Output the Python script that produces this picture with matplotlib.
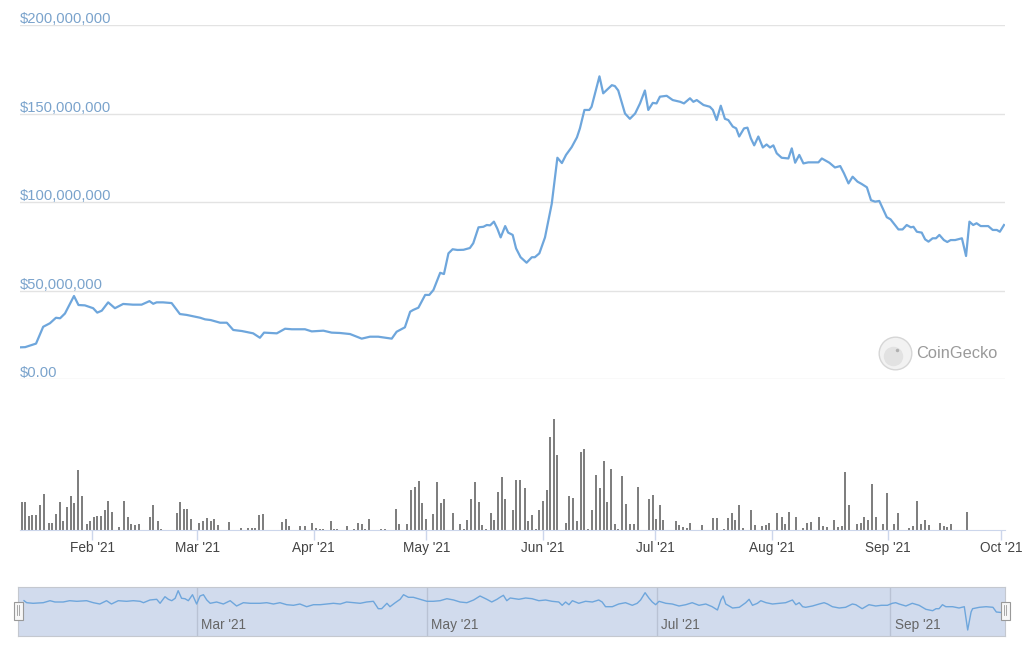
import numpy as np
import pandas as pd
import matplotlib
matplotlib.use("Agg")
import matplotlib.pyplot as plt
import matplotlib.dates as mdates
from matplotlib.patches import Rectangle
from matplotlib.lines import Line2D

plt.rcParams['font.family'] = ['Liberation Sans', 'DejaVu Sans']

# price (market cap): day of year 2021, $ millions
price_doy = [13.0, 14.2, 17.1, 19.0, 20.8, 22.4, 23.5, 24.8, 27.2, 28.4, 30.1, 32.3, 33.4, 34.6,
             36.3, 38.1, 40.3, 42.9, 45.2, 47.3, 48.3, 49.2, 50.9, 53.2, 55.4, 57.2, 59.0, 60.8,
             62.1, 63.6, 66.1, 67.9, 69.6, 71.9, 74.9, 76.7, 77.8, 81.2, 83.4, 85.2, 88.7, 90.5,
             93.6, 95.8, 98.0, 100.7, 103.8, 106.0, 108.2, 111.8, 113.1, 115.3, 116.7, 117.5,
             118.9, 120.7, 121.8, 122.9, 124.7, 125.7, 126.9, 128.0, 129.3, 130.9, 132.6, 133.5,
             134.9, 136.2, 137.1, 138.0, 139.0, 139.9, 140.8, 142.0, 142.8, 144.0, 144.9, 146.1,
             147.7, 149.1, 149.9, 151.1, 152.6, 154.4, 155.9, 157.1, 158.2, 159.7, 161.1, 161.9,
             163.1, 164.4, 165.0, 167.1, 168.1, 170.4, 171.2, 172.1, 173.9, 175.2, 176.6, 177.9,
             179.2, 180.1, 181.3, 182.3, 183.2, 185.0, 186.6, 188.6, 189.6, 191.2, 192.1, 193.0,
             194.8, 196.5, 197.3, 198.3, 199.4, 200.5, 201.4, 202.6, 203.5, 204.3, 205.6, 206.5,
             207.4, 208.3, 209.4, 210.6, 211.6, 212.5, 213.4, 214.3, 215.6, 217.4, 218.3, 219.2,
             220.3, 221.4, 222.7, 225.4, 226.3, 228.3, 229.8, 231.2, 232.2, 233.4, 234.5, 235.8,
             236.9, 238.3, 239.4, 240.5, 241.6, 242.5, 243.6, 244.6, 246.7, 247.8, 248.9, 250.0,
             250.7, 251.6, 252.9, 253.8, 254.7, 255.8, 256.7, 257.6, 258.8, 259.7, 260.6, 261.8,
             263.6, 264.7, 265.6, 266.6, 267.5, 268.6, 270.6, 271.8, 272.9, 273.7, 274.8]
price_m = [17.9, 18.0, 20.0, 29.5, 31.5, 34.6, 34.3, 37.0, 46.9, 41.8, 41.6, 40.0, 37.5, 38.6,
           43.3, 40.0, 42.4, 42.0, 42.0, 44.0, 42.5, 43.3, 43.3, 42.9, 36.7, 36.2, 35.4, 34.6,
           33.7, 33.3, 31.8, 31.8, 27.7, 27.1, 25.8, 23.3, 26.2, 25.8, 28.4, 28.1, 28.1, 26.9,
           27.3, 26.2, 26.0, 25.4, 22.8, 23.9, 23.9, 22.8, 26.7, 29.2, 38.0, 39.0,
           40.3, 47.5, 47.5, 50.3, 60.0, 59.3, 71.0, 73.3, 72.9, 73.0, 74.0, 76.7,
           85.7, 86.0, 87.0, 86.8, 88.9, 85.0, 80.0, 86.4, 82.7, 81.4, 73.8, 68.8,
           65.7, 68.8, 68.8, 71.0, 80.0, 99.0, 125.0, 122.0, 126.6, 131.0, 136.5, 141.6,
           152.0, 152.0, 153.8, 171.0, 161.4, 166.0, 165.5, 163.0, 150.0, 147.0, 150.0, 155.7,
           163.0, 152.0, 156.0, 155.7, 159.5, 160.0, 157.6, 156.6, 155.7, 158.6, 156.6, 157.6,
           154.8, 153.8, 152.0, 146.3, 154.4, 147.0, 146.3, 142.6, 141.6, 137.0, 141.6, 142.0,
           136.0, 132.0, 137.0, 130.8, 132.5, 130.8, 132.0, 127.5, 125.0, 124.6, 130.3, 122.2,
           126.6, 121.8, 122.4, 122.4, 124.6, 122.2, 119.5, 120.3, 116.2, 110.5, 114.3, 111.5,
           110.2, 108.3, 101.0, 100.2, 100.6, 96.4, 91.4, 90.2, 84.5, 84.5, 87.0, 85.7,
           86.0, 83.2, 82.7, 78.9, 77.6, 79.5, 79.5, 81.4, 78.5, 77.4, 78.5, 78.5,
           79.5, 69.5, 88.9, 87.0, 88.0, 86.4, 86.4, 84.2, 84.2, 83.2, 87.0]

price_ticks = [0, 50e6, 100e6, 150e6, 200e6]
price_labels = ["$0.00", "$50,000,000", "$100,000,000", "$150,000,000", "$200,000,000"]

# volume bars (relative heights, axis is unlabeled)
vol_doy = [13.3, 14.2, 15.2, 16.1, 17.1, 18.2, 19.1, 20.5, 21.4, 22.3, 23.4, 24.4, 25.3, 26.3,
           27.2, 28.3, 29.3, 30.6, 31.5, 32.5, 33.4, 34.4, 35.4, 36.3, 37.3, 39.2, 40.6, 41.5,
           42.5, 43.4, 44.4, 47.4, 48.3, 49.6, 50.5, 54.5, 55.4, 56.4, 57.4, 58.3, 60.6, 61.6,
           62.5, 63.6, 64.5, 65.5, 68.5, 71.8, 73.6, 74.5, 75.5, 76.5, 77.5, 82.6, 83.6, 84.5,
           87.4, 88.6, 90.7, 91.6, 92.7, 93.6, 95.5, 96.5, 97.1, 99.8,
           101.8, 102.8, 103.8, 104.7, 105.7, 108.9, 109.9, 112.9, 113.8, 115.8, 116.8, 118.0,
           119.0, 119.9, 120.9, 122.9, 123.9, 124.8, 125.8, 128.0, 130.0, 131.0, 131.9, 132.9,
           133.9, 134.9, 135.8, 136.9, 138.1, 139.0, 140.1, 141.1, 142.0, 144.0, 144.9, 146.0,
           147.2, 148.2, 149.1, 150.2, 151.1, 152.0, 153.1, 153.9, 154.9, 155.9, 158.1, 159.1,
           160.0, 161.0, 162.1, 163.1, 164.1, 165.0, 166.2, 167.3, 168.3, 169.2, 170.2, 171.2,
           172.1, 173.2, 174.2, 175.1, 176.3, 177.3, 180.3, 181.3, 182.2, 183.2, 184.1, 187.5,
           188.4, 189.3, 190.3, 191.2,
           194.3, 197.4, 198.3, 200.3, 201.3, 202.3, 203.3, 204.3, 205.4, 207.5, 208.5, 210.3,
           211.4, 212.3, 214.3, 215.6, 216.6, 217.6, 219.4, 221.4, 222.3, 223.3, 225.6, 226.5,
           227.6, 229.5, 230.7, 231.6, 232.5, 233.5, 235.6, 236.6, 237.6, 238.6, 239.6, 240.6,
           242.5, 243.6, 245.5, 246.7, 249.6, 250.7, 251.6, 252.6, 253.9, 254.9, 257.8, 258.7,
           259.7, 260.7, 264.9]
vol_h = [28, 28, 14, 14.7, 14.7, 24.7, 35.7, 6.7, 7.3, 16, 28, 8.7, 23.3, 34,
         27.3, 60, 34, 6, 8.7, 12.7, 14, 14, 20, 29.3, 18, 2.7, 29.3, 12.7,
         6, 4.7, 6, 13.3, 25.3, 8.7, 1.3, 17.3, 28, 21.3, 21.3, 11.3, 7.3, 9.3,
         12.3, 8.7, 11, 5, 7.7, 2.3, 2.3, 2.3, 1.7, 15, 16, 8.3, 10.7, 4,
         4, 4, 7.3, 2, 1.3, 1.3, 8.7, 1.3, 1.3, 4,
         1.3, 7.3, 6, 1.3, 10.7, 1.3, 1.3, 21.3, 6, 6, 40, 42.7,
         48.7, 26.7, 10.7, 16, 47.7, 26.7, 30.7, 16.7, 6, 1.3, 10, 30.7,
         47.7, 28, 4.7, 1.3, 17.3, 10, 38, 53.3, 30.7, 20, 50, 50,
         41.7, 8.7, 14.7, 1.3, 20, 29.3, 40, 92.7, 110.7, 75.3, 7.3, 34,
         32, 8.7, 78, 80.7, 1.3, 20, 54.7, 41.7, 69.3, 28, 61.3, 6,
         1.3, 54, 26, 6, 6, 42.7, 30.7, 35.3, 11.3, 25.3, 10, 8.7,
         4.7, 3.3, 2, 7.3,
         4.7, 12, 12, 1.3, 12, 16.7, 10, 24.7, 2, 19.7, 4.7, 4,
         4.7, 6.7, 16.7, 12.7, 6, 18, 13.3, 2, 6.7, 8, 13.3, 4,
         3.3, 10, 2.7, 4, 58.3, 24.7, 6, 6.7, 13.3, 10, 46, 13.3,
         6, 36.7, 6, 16.7, 2, 4, 29.3, 6, 10, 4.7, 7.3, 4,
         2.7, 6, 18]

# navigator series (relative)
nav_doy = [14.1, 14.8, 16.5, 19.2, 21.0, 22.3, 24.5, 26.2, 28.1, 30.7, 32.5, 34.2, 36.0, 37.3,
           39.1, 41.3, 43.1, 44.9, 45.8, 47.5, 49.3, 50.2, 51.5, 52.4, 53.3, 54.2, 55.0, 55.9,
           56.8, 57.7, 58.8, 59.9, 60.8, 61.7, 62.6, 63.5, 65.2, 67.0, 68.8, 70.5, 72.3, 74.1,
           76.7, 78.5, 80.3, 82.0, 83.8, 85.6, 87.3, 89.1, 90.9, 92.7, 94.4, 96.2, 98.0, 99.7,
           101.5, 103.3, 105.0, 106.8, 108.1, 109.0, 110.4, 111.2, 112.6, 113.9, 114.8, 116.1,
           117.4, 119.2, 121.0, 122.7, 124.5, 126.3, 128.1, 129.8, 131.6, 133.4, 135.1, 136.9,
           138.2, 139.6, 140.4, 141.3, 142.2, 143.1,
           145.4, 147.2, 148.9, 150.7, 152.5, 154.2, 156.0, 156.9, 157.8, 158.7, 159.6, 161.3,
           163.1, 164.9, 166.6, 167.5, 168.4, 170.2, 171.9, 173.7, 175.5, 176.8, 177.7, 178.9,
           179.9, 180.8, 181.7, 182.6, 184.4, 186.1, 187.9, 189.7, 191.4, 193.2, 195.0, 196.7,
           198.1, 199.0, 199.6, 200.3, 202.1, 203.9, 205.6, 206.5, 207.4, 208.7, 209.6, 211.0,
           212.7, 214.5, 216.2, 218.0, 218.9, 219.8, 220.7, 221.5, 223.3, 225.1, 226.4, 227.3,
           228.6, 230.4, 232.1, 233.9, 234.8, 236.5, 238.3, 240.1, 241.6, 243.2, 244.5, 245.4,
           246.3, 248.1, 249.8, 251.6, 253.4, 255.2, 256.1, 256.9, 257.8, 258.7, 260.5, 262.2,
           263.6, 264.5, 265.4, 265.8, 267.6, 269.4, 271.2, 272.1, 273.9]
nav_val = [35.3, 33.3, 32.7, 33.3, 35.3, 34.0, 34.0, 35.3, 34.7, 35.3, 33.3, 32.0, 35.3, 32.0,
           35.3, 34.7, 35.3, 34.7, 33.3, 36.0, 36.7, 32.7, 39.3, 36.7, 35.3, 37.7, 45.3, 37.7,
           37.3, 35.3, 41.3, 32.0, 40.0, 41.3, 36.0, 32.7, 34.0, 32.0, 35.3, 30.0, 33.3, 32.7,
           32.7, 33.3, 32.0, 33.3, 31.3, 30.7, 32.0, 29.3, 31.3, 31.3, 32.0, 32.7, 32.0, 34.0,
           33.3, 32.7, 34.0, 34.7, 27.3, 27.3, 32.7, 29.3, 33.3, 36.7, 41.3, 38.7,
           38.7, 36.7, 34.7, 34.7, 35.3, 37.3, 36.0, 34.0, 33.3, 36.0, 40.0, 36.7,
           34.0, 36.7, 38.7, 40.7, 35.3, 38.0,
           36.7, 38.0, 37.3, 35.3, 36.0, 34.7, 34.0, 30.7, 34.0, 31.3, 35.3, 32.7,
           34.7, 34.0, 36.0, 34.0, 29.3, 29.3, 32.0, 33.3, 30.7, 32.7, 36.0, 43.3,
           38.0, 34.0, 31.3, 34.7, 32.7, 32.0, 30.0, 31.3, 33.3, 30.7, 32.0, 29.3,
           26.0, 36.0, 40.0, 32.0, 28.0, 28.7, 33.3, 36.7, 30.7, 32.7, 35.3, 33.3,
           32.0, 32.7, 33.3, 36.0, 31.3, 33.3, 29.3, 28.7, 30.0, 32.0, 33.3, 32.0,
           29.3, 28.0, 28.7, 32.0, 31.3, 27.3, 31.3, 30.0, 30.7, 30.7, 32.7, 33.3,
           32.0, 30.0, 32.7, 30.7, 26.7, 25.3, 27.3, 27.3, 31.3, 29.3, 29.3, 28.0,
           29.3, 6.0, 24.0, 27.3, 28.7, 29.3, 28.7, 24.0, 23.3]
nav_tick_doy = [60, 121, 182, 244]
nav_tick_labels = ["Mar '21", "May '21", "Jul '21", "Sep '21"]

LINE = '#6ea6dc'


def to_dt(doy):
    return pd.Timestamp('2021-01-01') + pd.to_timedelta(np.asarray(doy, dtype=float) - 1, unit='D')


def box(l, t, r, b):
    # pixel box (left, top, right, bottom) -> figure fractions
    return [l / 1024, 1 - b / 646, (r - l) / 1024, (b - t) / 646]


fig = plt.figure(figsize=(10.24, 6.46), dpi=100)

# price panel
ax = fig.add_axes(box(20, 25, 1005, 379))
ax.plot(to_dt(price_doy), np.array(price_m) * 1e6, color=LINE, lw=1.6, solid_joinstyle='round')
lim = to_dt([12.83, 275.07])
ax.set_xlim(lim[0], lim[1])
ax.set_ylim(0, 200e6)
ax.set_yticks(price_ticks)
ax.yaxis.grid(True, color='#e3e3e3', lw=1)
ax.set_axisbelow(True)
ax.tick_params(left=False, labelleft=False, bottom=False, labelbottom=False)
for s in ax.spines.values():
    s.set_visible(False)
for t, lab in zip(price_ticks, price_labels):
    ax.annotate(lab, xy=(0, t), xycoords=('axes fraction', 'data'), xytext=(0, 1.2),
                textcoords='offset points', ha='left', va='baseline', color='#7aa3cc', fontsize=10.6)

# watermark
fig.add_artist(Line2D([895 / 1024], [1 - 353 / 646], marker='o', markersize=23.5,
                      markerfacecolor='#f2f2f2', markeredgecolor='#d6d6d6', markeredgewidth=1,
                      transform=fig.transFigure))
fig.add_artist(Line2D([893 / 1024], [1 - 356 / 646], marker='o', markersize=14,
                      markerfacecolor='#e2e2e2', markeredgecolor='none', transform=fig.transFigure))
fig.add_artist(Line2D([897 / 1024], [1 - 350 / 646], marker='o', markersize=2.5,
                      markerfacecolor='#b0b0b0', markeredgecolor='none', transform=fig.transFigure))
fig.text(916 / 1024, 1 - 353 / 646, 'CoinGecko', ha='left', va='center', fontsize=11.8, color='#9a9a9a')

# volume panel
axv = fig.add_axes(box(20, 395, 1005, 530))
axv.vlines(to_dt(vol_doy), 0, vol_h, colors='#7f7f7f', lw=1.44, antialiased=False)
axv.set_xlim(lim[0], lim[1])
axv.set_ylim(0, 135)
for k in ['top', 'left', 'right']:
    axv.spines[k].set_visible(False)
axv.spines['bottom'].set_color('#ccd6eb')
axv.set_yticks([])
axv.xaxis.set_major_locator(mdates.MonthLocator())
axv.xaxis.set_major_formatter(mdates.DateFormatter("%b '%y"))
axv.tick_params(axis='x', direction='out', length=7, width=1, color='#ccd6eb',
                labelsize=9.8, labelcolor='#444444', pad=1)

# navigator
axn = fig.add_axes(box(18, 587, 1005, 636))
axn.set_facecolor('#d1dbed')
axn.plot(to_dt(nav_doy), nav_val, color=LINE, lw=1.0)
nlim = to_dt([12.5, 274.4])
axn.set_xlim(nlim[0], nlim[1])
axn.set_ylim(0, 49)
axn.set_yticks([])
axn.set_xticks(to_dt(nav_tick_doy))
axn.xaxis.grid(True, color='#b9c2d4', lw=1)
axn.set_axisbelow(True)
axn.tick_params(axis='x', length=0, labelbottom=False)
for s in axn.spines.values():
    s.set_color('#c4c8cf')
for d, lab in zip(to_dt(nav_tick_doy), nav_tick_labels):
    axn.annotate(lab, xy=(d, 0), xycoords=('data', 'axes fraction'), xytext=(3, 3),
                 textcoords='offset points', ha='left', va='bottom', color='#666666', fontsize=9.8)

# navigator handles
for hx in [13.5, 1000.5]:
    fig.add_artist(Rectangle((hx / 1024, 1 - 620 / 646), 9 / 1024, 18 / 646, transform=fig.transFigure,
                             facecolor='#f7f7f7', edgecolor='#999999', lw=0.8))
    for gx in [hx + 3.5, hx + 5.5]:
        fig.add_artist(Line2D([gx / 1024, gx / 1024], [1 - 615 / 646, 1 - 605 / 646],
                              color='#999999', lw=0.6, transform=fig.transFigure))

fig.savefig('out.png', dpi=100)
